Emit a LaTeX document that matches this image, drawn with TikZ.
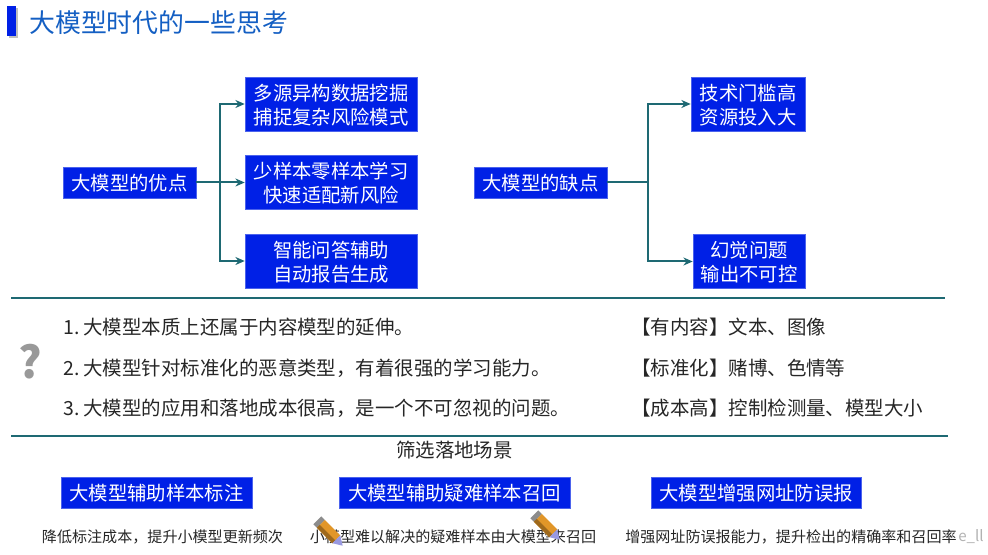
\documentclass[tikz,border=0pt]{standalone}
\usepackage{fontspec}
\setmainfont{Noto Sans CJK SC}[Scale=1]
\definecolor{blue1}{RGB}{0, 32, 230}
\definecolor{title1}{RGB}{20, 95, 195}
\definecolor{teal1}{RGB}{30, 105, 115}
\definecolor{pencil1}{RGB}{225, 150, 40}
\usetikzlibrary{arrows.meta, positioning}

\tikzset{
  bluebox/.style={draw=blue1!70!white, line width=0.4pt, fill=blue1, text=white, align=center, font=\fontsize{14.5}{18}\selectfont, inner sep=0pt, text depth=-0.7pt},
  link/.style={draw=teal1, line width=1.5pt, -{Stealth[length=7pt,width=6pt]}},
  rule1/.style={draw=teal1, line width=1.5pt},
  listitem/.style={anchor=west, inner sep=0pt, text=black!85, font=\fontsize{14.6}{17}\selectfont},
  descitem/.style={inner sep=0pt, text=black!85, font=\fontsize{11.3}{14}\selectfont},
}

\begin{document}
\begin{tikzpicture}[x=0.75pt, y=-0.75pt]
  \useasboundingbox (0,0) rectangle (988,555);

  % title
  \fill[black!25] (9,8) rectangle (18,38);
  \fill[blue1] (7,6) rectangle (16,36);
  \node[anchor=west, inner sep=0pt, text=title1, font=\fontsize{19.4}{22}\selectfont] (title) at (29,23) {大模型时代的一些思考};

  % advantages
  \node[bluebox, minimum width=99.75pt, minimum height=23.25pt] (good) at (129.5,182.5) {大模型的优点};
  \node[bluebox, minimum width=129pt, minimum height=40.5pt] (good1) at (331,104) {多源异构数据挖掘\\捕捉复杂风险模式};
  \node[bluebox, minimum width=129pt, minimum height=40.5pt] (good2) at (331,182.5) {少样本零样本学习\\快速适配新风险};
  \node[bluebox, minimum width=129pt, minimum height=40.5pt] (good3) at (331,261) {智能问答辅助\\自动报告生成};
  \coordinate (goodtrunk) at (220,182.5);
  \draw[link] (good) -- (good2);
  \draw[link] (goodtrunk) |- (good1);
  \draw[link] (goodtrunk) |- (good3);

  % disadvantages
  \node[bluebox, minimum width=99.75pt, minimum height=23.25pt] (bad) at (540.5,182.5) {大模型的缺点};
  \node[bluebox, minimum width=86pt, minimum height=40.5pt] (bad1) at (748.3,104) {技术门槛高\\资源投入大};
  \node[bluebox, minimum width=84.5pt, minimum height=40.5pt] (bad2) at (749.3,261.5) {幻觉问题\\输出不可控};
  \coordinate (badtrunk) at (648,182.5);
  \draw[rule1] (bad) -- (badtrunk);
  \draw[link] (badtrunk) |- (bad1);
  \draw[link] (badtrunk) |- (bad2);

  % rules
  \coordinate (ruleAl) at (11,298);
  \coordinate (ruleAr) at (945,298);
  \coordinate (ruleBl) at (11,436);
  \coordinate (ruleBr) at (948,436);
  \draw[rule1] (ruleAl) -- (ruleAr);
  \draw[rule1] (ruleBl) -- (ruleBr);

  % list
  \node[text=black!40, inner sep=0pt, font=\fontsize{33}{33}\selectfont\bfseries] (mark) at (30,362) {?};
  \node[listitem] (item1) at (63,327) {1.\hspace{0.2em}大模型本质上还属于内容模型的延伸。};
  \node[listitem] (item2) at (63,368) {2.\hspace{0.2em}大模型针对标准化的恶意类型，有着很强的学习能力。};
  \node[listitem] (item3) at (63,408) {3.\hspace{0.2em}大模型的应用和落地成本很高，是一个不可忽视的问题。};
  \node[listitem] (note1) at (631,327) {【有内容】文本、图像};
  \node[listitem] (note2) at (631,368) {【标准化】赌博、色情等};
  \node[listitem] (note3) at (631,408) {【成本高】控制检测量、模型大小};

  % scenes
  \node[listitem, anchor=center] (scene) at (454.5,450) {筛选落地场景};
  \node[bluebox, minimum width=143.25pt, minimum height=23.25pt] (scene1) at (156.5,492.5) {大模型辅助样本标注};
  \node[bluebox, minimum width=173.25pt, minimum height=23.25pt] (scene2) at (454.5,492.5) {大模型辅助疑难样本召回};
  \node[bluebox, minimum width=157.5pt, minimum height=23.25pt] (scene3) at (756,492.5) {大模型增强网址防误报};
  \node[descitem] (desc1) at (162.5,537) {降低标注成本，提升小模型更新频次};
  \node[descitem] (desc2) at (453,537) {小模型难以解决的疑难样本由大模型来召回};
  \node[descitem] (desc3) at (791,537) {增强网址防误报能力，提升检出的精确率和召回率};
  \node[inner sep=0pt, text=black!30, font=\fontsize{11.3}{14}\selectfont] (mark2) at (971,537) {e\_ll};

  % pencils
  \foreach \px/\py in {330/533, 547/527} {
    \begin{scope}[shift={(\px,\py)}, rotate=-45]
      \fill[pencil1] (-13,-5.5) rectangle (9,5.5);
      \fill[black!45] (-18,-5.5) rectangle (-13,5.5);
      \fill[pencil1!70!black] (-13,1.5) rectangle (9,5.5);
      \fill[black!30!blue!40] (9,-5.5) -- (18,0) -- (9,5.5) -- cycle;
    \end{scope}
  }
\end{tikzpicture}
\end{document}
